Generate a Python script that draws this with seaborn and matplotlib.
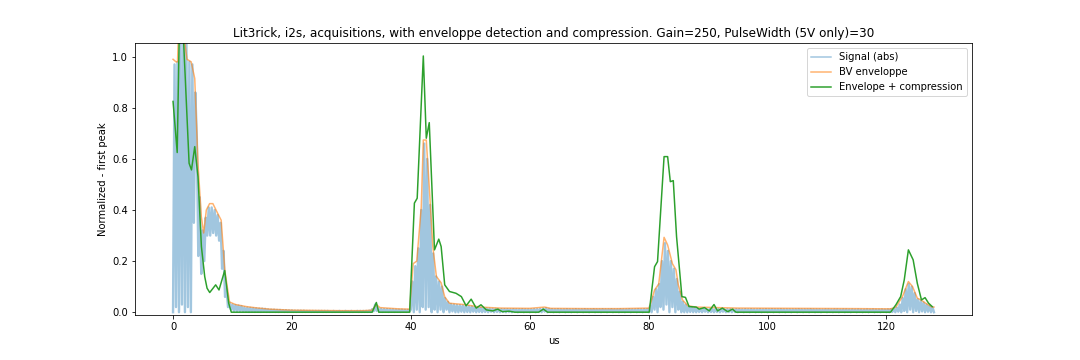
"""
Lit3rick i2s acquisition: abs signal, BV envelope and compressed envelope
"""
import numpy as np
import pandas as pd
import matplotlib
matplotlib.use("Agg")
import matplotlib.pyplot as plt
import seaborn as sns

# |signal| sampled every 0.25 us, 0 -> 128 us (16 samples = 4 us per row)
signal_step = 0.25
signal_abs = [
    0.00, 0.97, 0.02, 0.98, 0.00, 1.10, 0.03, 1.12, 0.00, 1.05, 0.02, 0.98, 0.00, 0.97, 0.35, 0.86,
    0.68, 0.22, 0.45, 0.15, 0.32, 0.20, 0.37, 0.30, 0.41, 0.30, 0.41, 0.31, 0.40, 0.30, 0.38, 0.28,
    0.35, 0.17, 0.24, 0.06, 0.09, 0.02, 0.038, 0.010, 0.030, 0.005, 0.028, 0.004, 0.026, 0.004, 0.024, 0.003,
    0.019, 0.002, 0.018, 0.001, 0.017, 0.002, 0.016, 0.001, 0.015, 0.002, 0.014, 0.001, 0.014, 0.002, 0.013, 0.001,
    0.011, 0.001, 0.010, 0.002, 0.010, 0.001, 0.009, 0.001, 0.009, 0.002, 0.008, 0.001, 0.008, 0.001, 0.007, 0.002,
    0.007, 0.001, 0.006, 0.001, 0.006, 0.002, 0.006, 0.001, 0.006, 0.001, 0.005, 0.002, 0.005, 0.001, 0.005, 0.001,
    0.005, 0.001, 0.005, 0.002, 0.005, 0.001, 0.005, 0.001, 0.005, 0.002, 0.004, 0.001, 0.005, 0.001, 0.004, 0.002,
    0.005, 0.001, 0.004, 0.001, 0.005, 0.002, 0.004, 0.001, 0.005, 0.001, 0.004, 0.002, 0.005, 0.001, 0.005, 0.001,
    0.005, 0.001, 0.005, 0.001, 0.006, 0.001, 0.012, 0.004, 0.030, 0.005, 0.015, 0.002, 0.013, 0.001, 0.012, 0.002,
    0.012, 0.001, 0.011, 0.002, 0.011, 0.001, 0.010, 0.002, 0.010, 0.001, 0.010, 0.002, 0.009, 0.001, 0.009, 0.002,
    0.01, 0.12, 0.00, 0.18, 0.01, 0.25, 0.00, 0.40, 0.02, 0.66, 0.01, 0.60, 0.02, 0.42, 0.00, 0.23,
    0.01, 0.14, 0.00, 0.12, 0.01, 0.10, 0.00, 0.055, 0.01, 0.040, 0.00, 0.032, 0.003, 0.030, 0.000, 0.028,
    0.000, 0.027, 0.002, 0.026, 0.000, 0.025, 0.001, 0.023, 0.000, 0.022, 0.002, 0.020, 0.000, 0.018, 0.001, 0.017,
    0.000, 0.016, 0.001, 0.015, 0.000, 0.014, 0.002, 0.013, 0.000, 0.013, 0.001, 0.012, 0.000, 0.012, 0.001, 0.012,
    0.000, 0.012, 0.001, 0.011, 0.000, 0.012, 0.002, 0.011, 0.000, 0.011, 0.001, 0.012, 0.000, 0.011, 0.001, 0.011,
    0.000, 0.011, 0.002, 0.012, 0.000, 0.012, 0.001, 0.013, 0.000, 0.014, 0.002, 0.016, 0.000, 0.013, 0.001, 0.012,
    0.000, 0.011, 0.001, 0.012, 0.000, 0.011, 0.002, 0.011, 0.000, 0.012, 0.001, 0.011, 0.000, 0.011, 0.001, 0.012,
    0.000, 0.011, 0.002, 0.011, 0.000, 0.012, 0.001, 0.011, 0.000, 0.011, 0.002, 0.012, 0.000, 0.011, 0.001, 0.011,
    0.000, 0.012, 0.001, 0.011, 0.000, 0.011, 0.002, 0.012, 0.000, 0.011, 0.001, 0.011, 0.000, 0.012, 0.001, 0.011,
    0.000, 0.011, 0.002, 0.012, 0.000, 0.011, 0.001, 0.011, 0.000, 0.012, 0.001, 0.011, 0.000, 0.012, 0.002, 0.012,
    0.00, 0.025, 0.00, 0.06, 0.01, 0.09, 0.00, 0.11, 0.02, 0.20, 0.01, 0.27, 0.03, 0.24, 0.00, 0.20,
    0.02, 0.17, 0.00, 0.13, 0.01, 0.08, 0.00, 0.04, 0.00, 0.030, 0.000, 0.022, 0.001, 0.020, 0.000, 0.018,
    0.000, 0.014, 0.001, 0.013, 0.000, 0.013, 0.002, 0.012, 0.000, 0.012, 0.001, 0.012, 0.000, 0.013, 0.001, 0.012,
    0.000, 0.012, 0.002, 0.011, 0.000, 0.012, 0.001, 0.012, 0.000, 0.011, 0.001, 0.012, 0.000, 0.012, 0.002, 0.011,
    0.000, 0.012, 0.001, 0.011, 0.000, 0.012, 0.002, 0.011, 0.000, 0.011, 0.001, 0.012, 0.000, 0.011, 0.001, 0.012,
    0.000, 0.011, 0.001, 0.012, 0.000, 0.011, 0.002, 0.011, 0.000, 0.012, 0.001, 0.011, 0.000, 0.011, 0.002, 0.011,
    0.000, 0.011, 0.002, 0.011, 0.000, 0.012, 0.001, 0.011, 0.000, 0.011, 0.001, 0.011, 0.000, 0.012, 0.002, 0.011,
    0.000, 0.011, 0.001, 0.011, 0.000, 0.010, 0.002, 0.011, 0.000, 0.011, 0.001, 0.010, 0.000, 0.011, 0.001, 0.011,
    0.000, 0.010, 0.002, 0.011, 0.000, 0.011, 0.001, 0.010, 0.000, 0.011, 0.002, 0.010, 0.000, 0.011, 0.001, 0.010,
    0.000, 0.010, 0.001, 0.011, 0.000, 0.010, 0.002, 0.011, 0.000, 0.010, 0.001, 0.010, 0.000, 0.011, 0.001, 0.010,
    0.000, 0.011, 0.000, 0.012, 0.001, 0.014, 0.000, 0.018, 0.002, 0.030, 0.000, 0.055, 0.005, 0.090, 0.000, 0.110,
    0.010, 0.100, 0.000, 0.075, 0.005, 0.050, 0.000, 0.045, 0.003, 0.038, 0.000, 0.030, 0.002, 0.025, 0.000, 0.020,
    0.000,
]

# BV envelope
bv_t = [0, 0.5, 0.75, 1.0, 1.5, 2.0, 2.35, 3.05, 3.65, 4.2, 4.75, 5.15, 5.6, 6.15, 6.7,
        7.55, 8.1, 8.7, 9.5, 10.5, 12.3, 14, 16.25, 18, 20, 24, 28, 32, 33.5, 34.2,
        34.8, 36, 38, 39.8, 40.4, 41.0, 41.75, 42.1, 42.6, 43.1, 43.7, 44.3, 45.1, 45.7, 46.5,
        48.9, 51.7, 55, 60, 62.5, 63.5, 70, 75, 80.1, 81.0, 81.7, 82.6, 83.2, 84.0, 84.6,
        85.0, 85.7, 86.6, 88.0, 95, 105, 115, 120.7, 121.6, 122.7, 123.7, 124.4, 125.2, 125.8, 126.6,
        127.7, 128]
bv_env = [0.99, 0.98, 0.98, 1.15, 1.2, 1.05, 0.99, 0.98, 0.915, 0.58, 0.375, 0.31, 0.40, 0.425, 0.425,
          0.385, 0.36, 0.165, 0.04, 0.03, 0.022, 0.017, 0.012, 0.010, 0.008, 0.007, 0.006, 0.006, 0.008, 0.030,
          0.018, 0.016, 0.013, 0.012, 0.19, 0.20, 0.41, 0.674, 0.674, 0.49, 0.257, 0.14, 0.115, 0.06, 0.035,
          0.03, 0.02, 0.016, 0.015, 0.02, 0.015, 0.014, 0.014, 0.016, 0.087, 0.11, 0.293, 0.263, 0.19, 0.166,
          0.107, 0.048, 0.025, 0.02, 0.016, 0.015, 0.014, 0.013, 0.02, 0.061, 0.12, 0.10, 0.055, 0.048, 0.035,
          0.02, 0.02]

# Envelope + compression
comp_t = [0, 0.7, 1.2, 1.7, 2.7, 3.1, 3.65, 4.2, 4.77, 5.33, 5.72, 6.17, 7.17, 7.73, 8.69,
          9.36, 9.8, 33.5, 34.2, 34.6, 39.8, 40.6, 41.07, 42.1, 42.6, 43.1, 43.98, 44.7, 45.1, 45.7,
          46.5, 47.6, 48.5, 49.3, 50.15, 51.0, 51.8, 52.7, 53.8, 54.6, 55.4, 56.5, 57.5, 61.5, 62.3,
          63.0, 80.1, 81.0, 81.5, 82.6, 83.2, 83.65, 84.15, 84.7, 85.6, 86.2, 86.8, 88.0, 88.5, 89.4,
          90.2, 91.0, 91.6, 92.4, 93.3, 94.1, 94.7, 120.7, 121.6, 122.4, 123.0, 123.7, 124.5, 125.2, 125.9,
          126.5, 127.1, 127.7]
comp_env = [0.825, 0.625, 1.3, 1.1, 0.583, 0.557, 0.648, 0.53, 0.257, 0.139, 0.094, 0.077, 0.107, 0.087, 0.163,
            0.035, 0.0, 0.0, 0.038, 0.0, 0.0, 0.427, 0.446, 1.003, 0.681, 0.742, 0.244, 0.286, 0.257, 0.107,
            0.081, 0.074, 0.061, 0.025, 0.051, 0.016, 0.029, 0.009, 0.005, 0.012, 0.002, 0.004, 0.0, 0.0, 0.012,
            0.0, 0.0, 0.178, 0.198, 0.609, 0.609, 0.511, 0.515, 0.296, 0.061, 0.058, 0.022, 0.02, 0.012, 0.018,
            0.005, 0.03, 0.005, 0.016, 0.002, 0.012, 0.0, 0.0, 0.029, 0.061, 0.126, 0.244, 0.205, 0.113, 0.048,
            0.057, 0.035, 0.022]

sig_t = np.arange(len(signal_abs)) * signal_step
sig_df = pd.DataFrame({'us': sig_t, 'value': signal_abs})
bv_df = pd.DataFrame({'us': bv_t, 'value': bv_env})
comp_df = pd.DataFrame({'us': comp_t, 'value': comp_env})

fig, ax = plt.subplots(figsize=(15, 5), dpi=72)
fig.subplots_adjust(left=0.125, right=0.9, top=0.88, bottom=0.125)

sns.lineplot(data=sig_df, x='us', y='value', ax=ax, color='tab:blue', alpha=0.42,
             linewidth=2.4, estimator=None, sort=False, label='Signal (abs)')
sns.lineplot(data=bv_df, x='us', y='value', ax=ax, color='tab:orange', alpha=0.6,
             linewidth=1.5, estimator=None, sort=False, label='BV enveloppe')
sns.lineplot(data=comp_df, x='us', y='value', ax=ax, color='tab:green',
             linewidth=1.5, estimator=None, sort=False, label='Envelope + compression')

ax.set_xlim(-6.4, 134.4)
ax.set_ylim(-0.011, 1.053)
ax.set_title('Lit3rick, i2s, acquisitions, with enveloppe detection and compression. '
             'Gain=250, PulseWidth (5V only)=30', fontsize=12)
ax.set_xlabel('us')
ax.set_ylabel('Normalized - first peak')
leg = ax.legend(loc='upper right')
for line in leg.get_lines():
    line.set_linewidth(1.5)

plt.savefig('out.png', dpi=72)
plt.close()
